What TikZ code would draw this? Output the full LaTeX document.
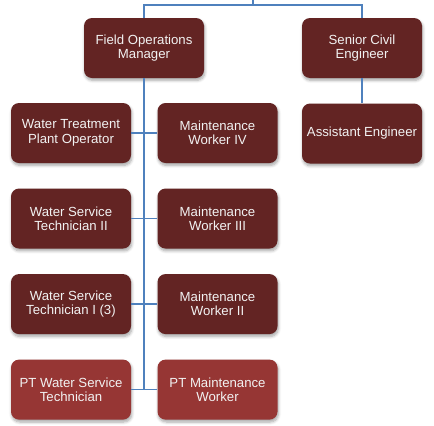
\documentclass[tikz,border=0pt]{standalone}
\usepackage{fontspec}
\setmainfont{Liberation Sans}
\usetikzlibrary{positioning, shadows.blur}

\definecolor{boxdark}{HTML}{632423}
\definecolor{boxlight}{HTML}{963634}
\definecolor{linkblue}{HTML}{4F81BD}

\tikzset{
  post/.style={fill=boxdark, rounded corners=6pt, minimum width=90pt, minimum height=45pt,
    align=center, text=white!95!black, font=\fontsize{9.9}{10.8}\selectfont,
    blur shadow={shadow xshift=0.6pt, shadow yshift=-1.8pt, shadow blur steps=6, shadow opacity=35}},
  ptpost/.style={post, fill=boxlight},
  link/.style={draw=linkblue, line width=1pt}
}

\begin{document}
\begin{tikzpicture}[x=0.75pt, y=-0.75pt, node distance=18.75pt and 19.5pt]
    \useasboundingbox (0,0) rectangle (434,425);

	% Define nodes
	\node (fom) [post] at (144,48) {Field Operations\\Manager};
	\node (sce) [post] at (362,48) {Senior Civil\\Engineer};
	\node (ae) [post, below=of sce] {Assistant Engineer};

	\node (wtp) [post] at (71,133) {Water Treatment\\Plant Operator};
	\node (wst2) [post, below=of wtp] {Water Service\\Technician II};
	\node (wst1) [post, below=of wst2] {Water Service\\Technician I (3)};
	\node (ptwst) [ptpost, below=of wst1] {PT Water Service\\Technician};

	\node (mw4) [post, right=of wtp] {Maintenance\\Worker IV};
	\node (mw3) [post, right=of wst2] {Maintenance\\Worker III};
	\node (mw2) [post, right=of wst1] {Maintenance\\Worker II};
	\node (ptmw) [ptpost, right=of ptwst] {PT Maintenance\\Worker};

	\coordinate (top) at (253,0);
	\coordinate (bus) at (253,5);

	% Draw lines
	\draw[link] (top) -- (bus);
	\draw[link] (fom.north) |- (bus) -| (sce.north);
	\draw[link] (sce) -- (ae);
	\draw[link] (fom.south) -- (fom.south |- ptwst.east);
	\draw[link] (wtp) -- (mw4);
	\draw[link] (wst2) -- (mw3);
	\draw[link] (wst1) -- (mw2);
	\draw[link] (ptwst) -- (ptmw);

\end{tikzpicture}
\end{document}
